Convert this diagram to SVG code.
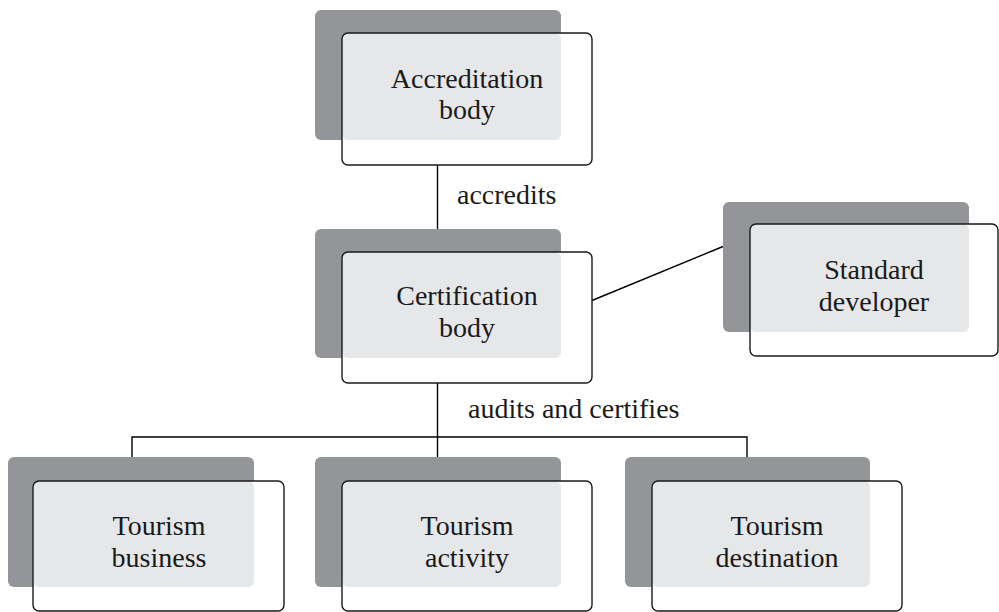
<svg xmlns="http://www.w3.org/2000/svg" width="999" height="612" viewBox="0 0 999 612" font-family="'Liberation Serif', 'Times New Roman', Times, serif">
<style>
.bg{fill:#ffffff}
.dark{fill:#939598}
.light{fill:#e6e7e8}
.frame{fill:none;stroke:#1a1a1a;stroke-width:1.4}
.link{fill:none;stroke:#000;stroke-width:1.4}
text{font-family:'Liberation Serif','Times New Roman',Times,serif;font-size:28px;fill:#1a1a1a;text-anchor:middle}
.lbl{text-anchor:start}
</style>
<rect class="bg" width="999" height="612"/>
<g id="connectors">
<line class="link" x1="437.5" y1="165" x2="437.5" y2="229"/>
<line class="link" x1="592" y1="300.5" x2="723" y2="246.5"/>
<line class="link" x1="437.5" y1="383" x2="437.5" y2="457"/>
<polyline class="link" points="132,457 132,437 747,437 747,457"/>
<text class="lbl" x="457" y="204">accredits</text>
<text class="lbl" x="468" y="418">audits and certifies</text>
</g>
<g id="accreditation-body">
<rect class="dark" x="315" y="10" width="246" height="130" rx="6"/>
<rect class="bg" x="342" y="33" width="250" height="132" rx="6"/>
<rect class="light" x="342" y="33" width="219" height="107" rx="6"/>
<rect class="frame" x="342" y="33" width="250" height="132" rx="6"/>
<text x="467" y="88">Accreditation</text>
<text x="467" y="119">body</text>
</g>
<g id="certification-body">
<rect class="dark" x="315" y="229" width="246" height="129" rx="6"/>
<rect class="bg" x="342" y="252" width="250" height="131" rx="6"/>
<rect class="light" x="342" y="252" width="219" height="106" rx="6"/>
<rect class="frame" x="342" y="252" width="250" height="131" rx="6"/>
<text x="467" y="305">Certification</text>
<text x="467" y="337">body</text>
</g>
<g id="standard-developer">
<rect class="dark" x="723" y="202" width="246" height="130" rx="6"/>
<rect class="bg" x="750" y="224" width="248" height="132" rx="6"/>
<rect class="light" x="750" y="224" width="219" height="108" rx="6"/>
<rect class="frame" x="750" y="224" width="248" height="132" rx="6"/>
<text x="874" y="279">Standard</text>
<text x="874" y="311">developer</text>
</g>
<g id="tourism-business">
<rect class="dark" x="8" y="457" width="246" height="130" rx="6"/>
<rect class="bg" x="33" y="481" width="251" height="130" rx="6"/>
<rect class="light" x="33" y="481" width="221" height="106" rx="6"/>
<rect class="frame" x="33" y="481" width="251" height="130" rx="6"/>
<text x="159" y="535">Tourism</text>
<text x="159" y="567">business</text>
</g>
<g id="tourism-activity">
<rect class="dark" x="315" y="457" width="246" height="130" rx="6"/>
<rect class="bg" x="342" y="481" width="250" height="130" rx="6"/>
<rect class="light" x="342" y="481" width="219" height="106" rx="6"/>
<rect class="frame" x="342" y="481" width="250" height="130" rx="6"/>
<text x="467" y="535">Tourism</text>
<text x="467" y="567">activity</text>
</g>
<g id="tourism-destination">
<rect class="dark" x="625" y="457" width="245" height="130" rx="6"/>
<rect class="bg" x="652" y="481" width="250" height="130" rx="6"/>
<rect class="light" x="652" y="481" width="218" height="106" rx="6"/>
<rect class="frame" x="652" y="481" width="250" height="130" rx="6"/>
<text x="777" y="535">Tourism</text>
<text x="777" y="567">destination</text>
</g>
</svg>
